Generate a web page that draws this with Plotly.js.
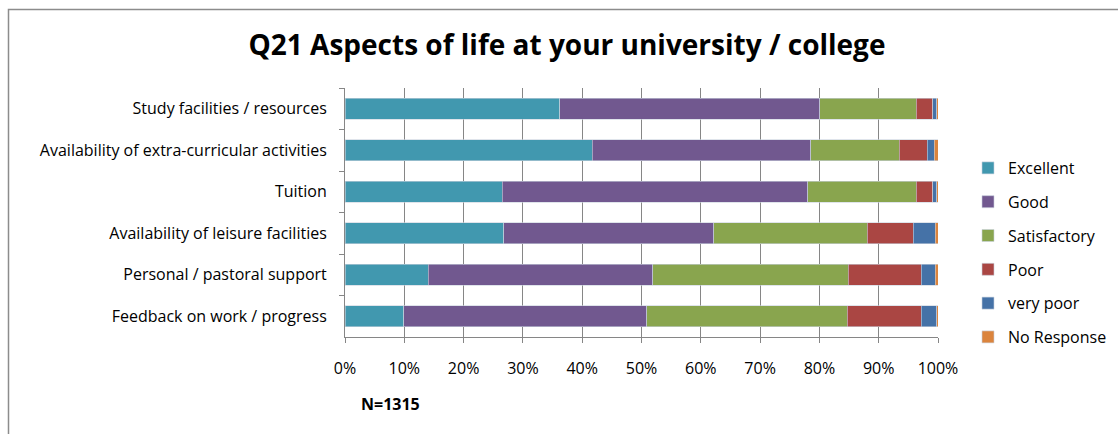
<!DOCTYPE html>
<html>
<head>
<meta charset="utf-8">
<script src="https://cdn.plot.ly/plotly-3.0.1.min.js"></script>
<style>
  html, body { margin: 0; padding: 0; background: #fff; overflow: hidden; }
  #chart { width: 1118px; height: 434px; }
</style>
</head>
<body>
<div id="chart"></div>
<script>
// Categories (top to bottom as shown)
const categories = [
  "Study facilities / resources",
  "Availability of extra-curricular activities",
  "Tuition",
  "Availability of leisure facilities",
  "Personal / pastoral support",
  "Feedback on work / progress"
];

// Series values (% of respondents), same order as categories
const excellent    = [36.2, 41.7, 26.5, 26.8, 14.0,  9.9];
const good         = [43.9, 36.8, 51.5, 35.4, 37.9, 41.0];
const satisfactory = [16.2, 15.0, 18.3, 25.9, 33.0, 33.8];
const poor         = [ 2.8,  4.7,  2.8,  7.7, 12.3, 12.5];
const veryPoor     = [ 0.7,  1.2,  0.7,  3.7,  2.3,  2.6];
const noResponse   = [ 0.2,  0.6,  0.2,  0.5,  0.5,  0.2];

const seriesNames = ["Excellent", "Good", "Satisfactory", "Poor", "very poor", "No Response"];
const seriesData  = [excellent, good, satisfactory, poor, veryPoor, noResponse];
const seriesColors = ["#4198AF", "#71588F", "#89A54E", "#AA4643", "#4572A7", "#DB843D"];

const xTickVals = [0, 10, 20, 30, 40, 50, 60, 70, 80, 90, 100];
const xTickText = ["0%", "10%", "20%", "30%", "40%", "50%", "60%", "70%", "80%", "90%", "100%"];

const FONT = "'Open Sans', 'Noto Sans', 'Liberation Sans', sans-serif";

const traces = seriesNames.map((name, i) => ({
  type: "bar",
  orientation: "h",
  name: name,
  legendgroup: name,
  x: seriesData[i],
  y: categories,
  marker: { color: seriesColors[i], line: { color: "#c9d2dd", width: 0.6 } },
  hoverinfo: "name+x"
}));

const W = 1118, H = 434;
const mL = 345, mR = 180, mT = 88, mB = 97;
const pw = W - mL - mR, ph = H - mT - mB;
const px2x = p => (p - mL) / pw;
const py2y = p => (H - mB - p) / ph;

const layout = {
  width: W, height: H,
  margin: { l: mL, r: mR, t: mT, b: mB, pad: 0, autoexpand: false },
  paper_bgcolor: "#ffffff",
  plot_bgcolor: "#ffffff",
  barmode: "stack",
  bargap: 0.5,
  font: { family: FONT, size: 16, color: "#000" },
  title: {
    text: "<b>Q21 Aspects of life at your university / college</b>",
    font: { family: FONT, size: 28, color: "#000" },
    x: 567 / W, xanchor: "center",
    y: 1 - 45 / H, yanchor: "middle"
  },
  xaxis: {
    range: [0, 100],
    tickvals: xTickVals,
    ticktext: xTickText,
    showgrid: true,
    gridcolor: "#868686",
    gridwidth: 1,
    zeroline: false,
    showline: true,
    linecolor: "#868686",
    linewidth: 1,
    ticks: "outside",
    ticklen: 5,
    tickcolor: "#868686",
    ticklabelstandoff: 12,
    tickfont: { family: FONT, size: 16, color: "#000" },
    automargin: false,
    fixedrange: true
  },
  yaxis: {
    type: "category",
    categoryorder: "array",
    categoryarray: categories,
    autorange: "reversed",
    showgrid: false,
    zeroline: false,
    showline: true,
    linecolor: "#868686",
    linewidth: 1,
    ticks: "outside",
    tickson: "boundaries",
    ticklen: 5,
    tickcolor: "#868686",
    ticklabelstandoff: 14,
    tickfont: { family: FONT, size: 16, color: "#000" },
    automargin: false,
    fixedrange: true
  },
  legend: {
    x: px2x(968), xanchor: "left",
    y: py2y(151), yanchor: "top",
    traceorder: "grouped",
    tracegroupgap: 10,
    font: { family: FONT, size: 16, color: "#000" },
    bgcolor: "rgba(0,0,0,0)",
    itemclick: false, itemdoubleclick: false
  },
  annotations: [{
    text: "<b>N=1315</b>",
    xref: "paper", yref: "paper",
    x: px2x(359), y: py2y(404),
    xanchor: "left", yanchor: "middle",
    showarrow: false,
    font: { family: FONT, size: 16, color: "#000" }
  }],
  shapes: [{
    type: "rect", xref: "paper", yref: "paper",
    x0: px2x(8.5), x1: px2x(1130),
    y0: py2y(450), y1: py2y(9.5),
    line: { color: "#8c8c8c", width: 1.5 },
    fillcolor: "rgba(0,0,0,0)",
    layer: "below"
  }]
};

Plotly.newPlot("chart", traces, layout, { displayModeBar: false, staticPlot: true });
</script>
</body>
</html>
